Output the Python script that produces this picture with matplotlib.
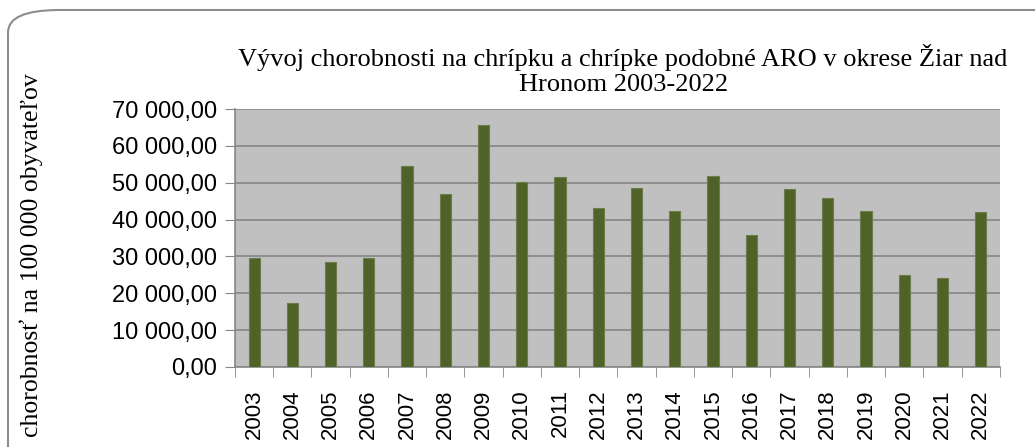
import matplotlib
matplotlib.use("Agg")
import matplotlib.pyplot as plt
import numpy as np
from matplotlib.patches import FancyBboxPatch
from matplotlib.ticker import FuncFormatter, MultipleLocator

# roky a chorobnosť na 100 000 obyvateľov
years = [str(y) for y in range(2003, 2023)]
values = [29450, 17490, 28360, 29450, 54520, 46830, 65740, 50090, 51450, 43030,
          48620, 42290, 51800, 35690, 48190, 45740, 42290, 24830, 24180, 41940]

title = "Vývoj chorobnosti na chrípku a chrípke podobné ARO v okrese Žiar nad\nHronom 2003-2022"
ylabel = "chorobnosť na 100 000 obyvateľov"

fig = plt.figure(figsize=(10.35, 4.47), dpi=100)

# zaoblený rámik okolo grafu
frame = FancyBboxPatch((8 / 1035, -0.1), 1.1, 1.1 - 10 / 447,
                       boxstyle="round,pad=0,rounding_size=0.05",
                       transform=fig.transFigure, facecolor="white",
                       edgecolor="#8c8c8c", linewidth=1.5, zorder=-5)
fig.patches.append(frame)

ax = fig.add_axes([0.227, 0.179, 0.739, 0.577])
ax.set_facecolor("#c0c0c0")

x = np.arange(len(years))
ax.bar(x, values, width=0.29, color="#4f6228", edgecolor="#6b7d4a",
       linewidth=0.8, zorder=3)

ax.set_xlim(-0.5, len(years) - 0.5)
ax.set_ylim(0, 70000)
ax.yaxis.set_major_locator(MultipleLocator(10000))
ax.yaxis.set_major_formatter(
    FuncFormatter(lambda v, p: f"{v:,.2f}".replace(",", " ").replace(".", ",")))
ax.grid(axis="y", color="#868686", linewidth=1.2, zorder=1)
ax.set_axisbelow(True)

ax.set_xticks(x)
ax.set_xticklabels(years, rotation=90, fontsize=16, family="Liberation Sans")
ax.set_xticks(np.arange(-0.5, len(years)), minor=True)
ax.tick_params(axis="x", which="major", length=0, pad=16)
ax.tick_params(axis="x", which="minor", length=7, color="#868686")
ax.tick_params(axis="y", length=7, color="#868686", pad=6)
for lab in ax.get_yticklabels():
    lab.set_fontsize(17)
    lab.set_family("Liberation Sans")

for side in ["top", "right"]:
    ax.spines[side].set_visible(False)
for side in ["left", "bottom"]:
    ax.spines[side].set_color("#868686")
    ax.spines[side].set_linewidth(1.2)

fig.text(0.602, 0.843, title, ha="center", va="center", fontsize=19,
         family="Liberation Serif", linespacing=1.15)
fig.text(0.03, 0.43, ylabel, rotation=90, ha="center", va="center",
         fontsize=18.5, family="Liberation Serif")

fig.savefig("out.png", dpi=100)
